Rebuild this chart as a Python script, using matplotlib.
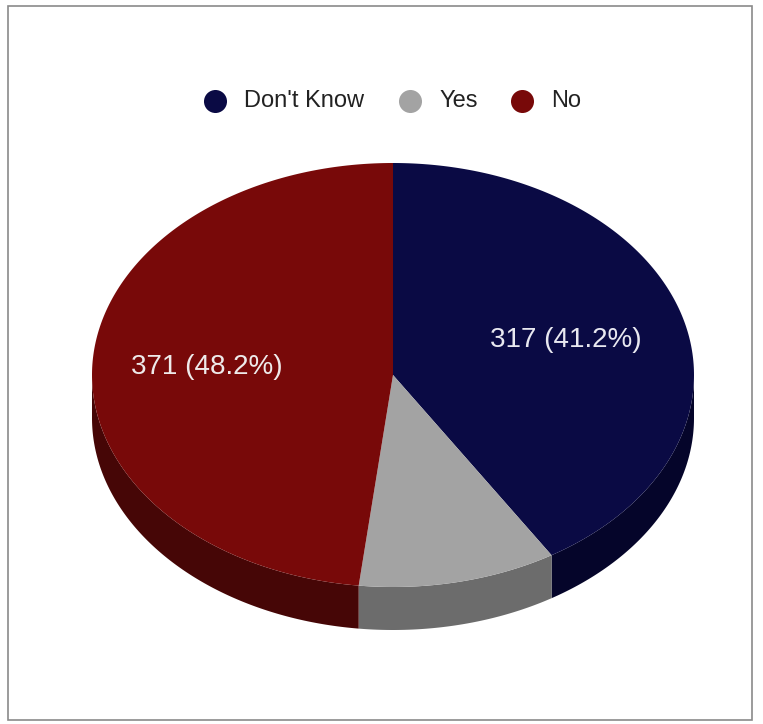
import numpy as np
import matplotlib.pyplot as plt
from matplotlib.patches import Polygon, Rectangle

# Data
labels = ["Don't Know", "Yes", "No"]
values = [317, 82, 371]
colors = ['#0a0a44', '#a3a3a3', '#780909']
side_colors = ['#05052a', '#6c6c6c', '#460606']
label_colors = ['#e8e8f0', '#ffffff', '#eeeaea']

# geometry (pixels)
cx, cy = 393, 375
rx, ry = 301, 212
depth = 43

fig = plt.figure(figsize=(7.63, 7.24), dpi=100)
ax = fig.add_axes([0, 0, 1, 1])
ax.set_xlim(0, 763)
ax.set_ylim(724, 0)
ax.axis('off')

# frame
ax.add_patch(Rectangle((8, 6), 744, 714, fill=False, edgecolor='#8a8a8a', lw=1.2))


def pt(theta_deg, dy=0):
    t = np.radians(theta_deg)
    return cx + rx * np.sin(t), cy - ry * np.cos(t) + dy


total = sum(values)
bounds = np.concatenate([[0], np.cumsum(values) / total * 360])

# side walls
for i in range(len(values)):
    a0, a1 = max(bounds[i], 90), min(bounds[i + 1], 270)
    if a1 <= a0:
        continue
    th = np.linspace(a0, a1, 120)
    top = [pt(t) for t in th]
    bot = [pt(t, depth) for t in th[::-1]]
    ax.add_patch(Polygon(top + bot, closed=True, facecolor=side_colors[i], edgecolor='none'))

# top faces
for i in range(len(values)):
    th = np.linspace(bounds[i], bounds[i + 1], 200)
    poly = [(cx, cy)] + [pt(t) for t in th]
    ax.add_patch(Polygon(poly, closed=True, facecolor=colors[i], edgecolor='none'))

# slice labels (small slice left unlabeled)
label_pos = {0: (566, 340), 2: (207, 367)}
for i, (x, y) in label_pos.items():
    pct = values[i] / total * 100
    ax.text(x, y, f"{values[i]} ({pct:.1f}%)", color=label_colors[i], fontsize=20,
            family='Liberation Sans', ha='center', va='center')

# legend
leg_x = [215, 410, 522]
for i in range(len(labels)):
    ax.scatter(leg_x[i], 101, s=275, color=colors[i], zorder=5, linewidths=0)
    ax.text(leg_x[i] + 29, 101, labels[i], fontsize=17, family='Liberation Sans',
            color='#222222', ha='left', va='center')

fig.savefig('out.png', dpi=100)
